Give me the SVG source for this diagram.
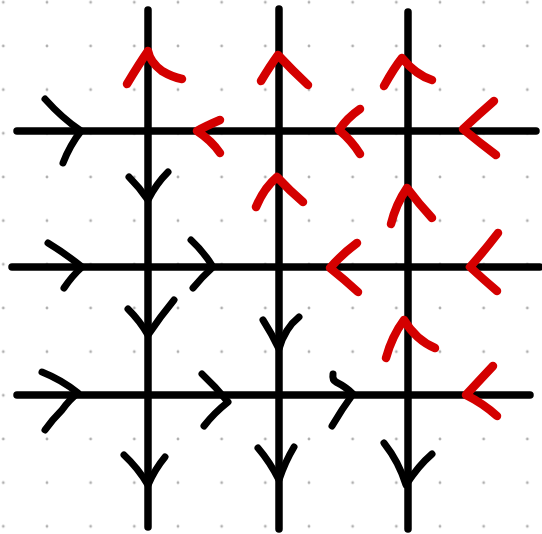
<svg xmlns="http://www.w3.org/2000/svg" width="542" height="534" viewBox="0 0 542 534">
<defs>
<pattern id="dots" x="3.3" y="2.3" width="43.67" height="43.67" patternUnits="userSpaceOnUse">
<circle cx="0" cy="0" r="1.4" fill="#b0b0b0"/>
<circle cx="43.67" cy="0" r="1.4" fill="#b0b0b0"/>
<circle cx="0" cy="43.67" r="1.4" fill="#b0b0b0"/>
<circle cx="43.67" cy="43.67" r="1.4" fill="#b0b0b0"/>
</pattern>
</defs>
<style>
.ln{fill:none;stroke:#000;stroke-width:7.5;stroke-linecap:round;stroke-linejoin:round}
.bk{fill:none;stroke:#000;stroke-width:7;stroke-linecap:round;stroke-linejoin:round}
.rd{fill:none;stroke:#d40000;stroke-width:8.5;stroke-linecap:round;stroke-linejoin:round}
</style>
<rect width="542" height="534" fill="#fff"/>
<rect width="542" height="534" fill="url(#dots)"/>
<g id="connectors">
<path class="ln" d="M148 10 L148 527"/>
<path class="ln" d="M279 9 L279 529"/>
<path class="ln" d="M408 12 L408 529"/>
<path class="ln" d="M17 131 L536 131"/>
<path class="ln" d="M12 267 L540 267"/>
<path class="ln" d="M17 395 L530 395"/>
</g>
<g id="black-arrows">
<path class="bk" d="M45 99 Q62 118 81 131 Q70 145 63 163"/>
<path class="bk" d="M129 177 Q140 188 148 200 Q156 184 168 172"/>
<path class="bk" d="M48 243 Q66 254 82 267 Q72 276 64 288"/>
<path class="bk" d="M191 240 Q204 252 213 267 Q202 277 193 288"/>
<path class="bk" d="M128 309 Q140 321 148 335 Q160 317 174 300"/>
<path class="bk" d="M263 320 Q272 334 279 349 Q285 328 299 317"/>
<path class="bk" d="M42 372 Q62 380 78 393 Q69 400 62 410 Q52 420 45 430"/>
<path class="bk" d="M202 374 Q216 387 228 402 Q214 413 204 426"/>
<path class="bk" d="M333 374 Q332 380 336 382 Q346 387 353 394 Q342 409 332 426"/>
<path class="bk" d="M124 455 Q138 468 148 485 Q155 469 165 457"/>
<path class="bk" d="M258 448 Q270 462 279 480 Q285 462 294 447"/>
<path class="bk" d="M384 443 Q399 462 406 485 Q418 466 432 454"/>
</g>
<g id="red-arrows">
<path class="rd" d="M127 84 Q139 64 148 51 Q150 62 162 71 Q172 77 182 79"/>
<path class="rd" d="M220 120 Q206 126 197 131 Q212 141 220 153"/>
<path class="rd" d="M261 81 Q270 66 278 55 Q292 70 308 85"/>
<path class="rd" d="M360 109 Q347 118 339 130 Q352 141 360 154"/>
<path class="rd" d="M384 86 Q394 68 402 58 Q416 75 432 80"/>
<path class="rd" d="M494 101 Q479 114 463 129 Q480 143 496 155"/>
<path class="rd" d="M256 207 Q264 188 277 177 Q290 191 303 202"/>
<path class="rd" d="M391 224 Q396 204 407 188 Q419 204 432 218"/>
<path class="rd" d="M357 243 Q341 255 330 268 Q345 280 358 292"/>
<path class="rd" d="M498 233 Q485 250 470 267 Q483 279 497 291"/>
<path class="rd" d="M386 358 Q392 336 404 320 Q416 340 435 348"/>
<path class="rd" d="M493 366 Q478 382 466 395 Q484 404 497 416"/>
</g>
</svg>
